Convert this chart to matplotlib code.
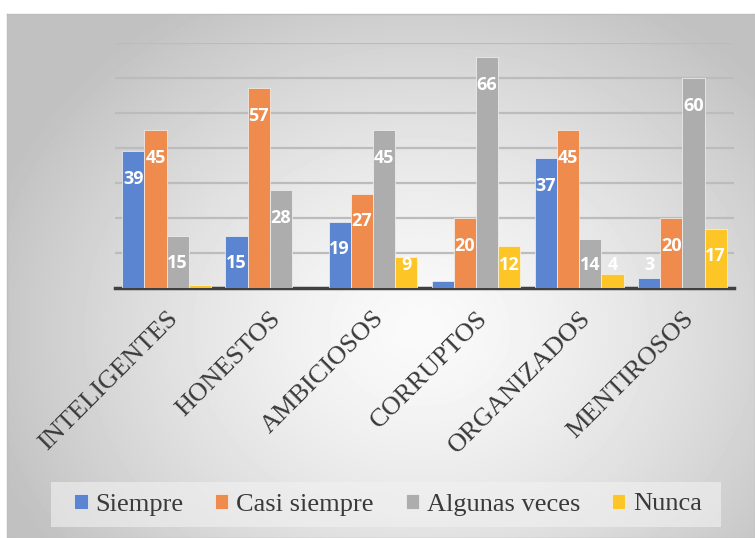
import numpy as np
import matplotlib.pyplot as plt
from matplotlib.patches import Rectangle

categorias = ['INTELIGENTES', 'HONESTOS', 'AMBICIOSOS', 'CORRUPTOS', 'ORGANIZADOS', 'MENTIROSOS']
series = ['Siempre', 'Casi siempre', 'Algunas veces', 'Nunca']
siempre = [39, 15, 19, 2, 37, 3]
casi_siempre = [45, 57, 27, 20, 45, 20]
algunas_veces = [15, 28, 45, 66, 14, 60]
nunca = [1, 0, 9, 12, 4, 17]
valores = [siempre, casi_siempre, algunas_veces, nunca]
colores = ['#5b85d0', '#ee8b4d', '#adadad', '#fdc526']

fig = plt.figure(figsize=(7.55, 5.38), dpi=100, facecolor='white')

# fondo con degradado radial
bg = fig.add_axes([7 / 755, 0, 1 - 7 / 755, 1 - 14 / 538])
h, w = 524, 748
yy, xx = np.mgrid[0:h, 0:w]
d = np.sqrt(((xx - 413) / 450) ** 2 + ((yy - 316) / 380) ** 2)
fondo = 250 - 57 * np.clip(d, 0, 1) ** 1.4
bg.imshow(fondo, cmap='gray', vmin=0, vmax=255, aspect='auto', interpolation='bilinear')
bg.set_xticks([])
bg.set_yticks([])
for s in bg.spines.values():
    s.set_color('#bdbdbd')
    s.set_linewidth(1)

ax = fig.add_axes([115 / 755, 1 - 288 / 538, 619 / 755, 245 / 538])
ax.patch.set_alpha(0)

x = np.arange(len(categorias))
ancho = 0.215
for i, (nombre, vals, c) in enumerate(zip(series, valores, colores)):
    pos = x + (i - 1.5) * ancho
    ax.bar(pos, vals, width=ancho, color=c, edgecolor='#f4f4f4', linewidth=0.5,
           label=nombre, zorder=3)
    for xp, v in zip(pos, vals):
        if v >= 3:
            ax.text(xp, max(v - 8, 6.6), str(v), ha='center', va='center', color='white',
                    fontsize=13, fontweight='bold', family=['Open Sans', 'DejaVu Sans'],
                    zorder=4)

ax.set_xlim(-0.5, 5.5)
ax.set_ylim(0, 70)
ax.set_yticks(np.arange(10, 71, 10))
ax.yaxis.grid(True, color='#bcbcbc', linewidth=1.6, zorder=1)
ax.tick_params(axis='y', length=0, labelleft=False)
ax.tick_params(axis='x', length=0, pad=14)
for s in ['top', 'right', 'left']:
    ax.spines[s].set_visible(False)
ax.spines['bottom'].set_color('#404040')
ax.spines['bottom'].set_linewidth(2.5)
ax.spines['bottom'].set_zorder(2)

ax.set_xticks(x)
ax.set_xticklabels(categorias, rotation=45, ha='right', va='top', rotation_mode='anchor',
                   family='Liberation Serif', fontsize=19, color='#3a3a3a')

# caja de la leyenda
fig.patches.append(Rectangle((51 / 755, 1 - 527 / 538), 670 / 755, 45 / 538,
                             transform=fig.transFigure, facecolor='#f2f2f2', alpha=0.6,
                             edgecolor='none', zorder=1))
leg = fig.legend(loc='center', bbox_to_anchor=(388 / 755, 1 - 504.5 / 538), ncol=4,
                 prop={'family': 'Liberation Serif', 'size': 19},
                 handlelength=0.5, handleheight=0.5, handletextpad=0.3, columnspacing=1.2,
                 frameon=False, borderaxespad=0)
for t in leg.get_texts():
    t.set_color('#3a3a3a')

fig.savefig('out.png', dpi=100, facecolor='white')
